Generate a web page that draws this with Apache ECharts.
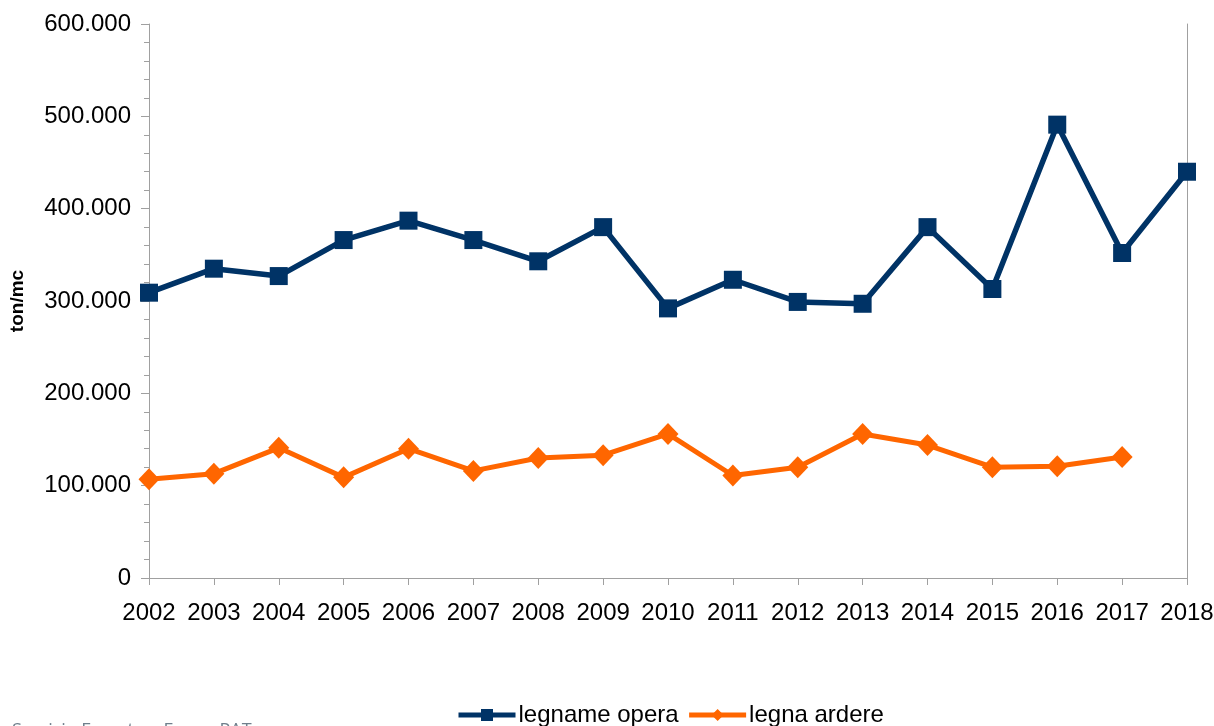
<!DOCTYPE html>
<html>
<head>
<meta charset="utf-8">
<script src="https://cdn.jsdelivr.net/npm/echarts@6/dist/echarts.min.js"></script>
<style>
  html, body { margin: 0; padding: 0; background: #ffffff; }
  #chart { width: 1214px; height: 726px; }
</style>
</head>
<body>
<div id="chart"></div>
<script>
// Anni
const years = ['2002','2003','2004','2005','2006','2007','2008','2009','2010',
               '2011','2012','2013','2014','2015','2016','2017','2018'];

// Legname da opera (ton/mc)
const legnameOpera = [309000, 335000, 327000, 366000, 387000, 366000, 343000, 380000, 292000,
                      323000, 299000, 297000, 380000, 313000, 491000, 352000, 440000];

// Legna da ardere (ton/mc) – 2018 non disponibile
const legnaArdere = [107000, 113000, 141000, 109000, 140000, 116000, 130000, 133000, 156000,
                     111000, 120000, 156000, 144000, 120000, 121000, 131000, null];

const seriesNames = ['legname opera', 'legna ardere'];
const sourceNote = 'Servizio Foreste e Fauna PAT';

const FONT = '"Liberation Sans", Arial, sans-serif';
const AXIS_GRAY = '#a0a0a0';
const NAVY = '#003366';
const ORANGE = '#ff6600';

// Formato italiano: punto come separatore delle migliaia
function fmtIt(v) {
  return String(Math.round(v)).replace(/\B(?=(\d{3})+(?!\d))/g, '.');
}

const chart = echarts.init(document.getElementById('chart'), null, { renderer: 'canvas' });

chart.setOption({
  animation: false,
  backgroundColor: '#ffffff',
  textStyle: { fontFamily: FONT },
  grid: { left: 149, right: 27, top: 24, bottom: 148, containLabel: false, outerBoundsMode: 'none' },
  legend: {
    top: 703,
    left: 456,
    padding: 0,
    itemWidth: 57,
    itemHeight: 15,
    itemGap: 8,
    lineStyle: { width: 5 },
    textStyle: { fontFamily: FONT, fontSize: 24, color: '#000000', padding: [0, 0, 0, -2] },
    data: seriesNames
  },
  graphic: [{
    type: 'text',
    left: 12,
    top: 722,
    style: { text: sourceNote, fontFamily: '"Open Sans", sans-serif', fontSize: 18, fill: '#6f7f8c' }
  }],
  xAxis: {
    type: 'category',
    data: years,
    boundaryGap: false,
    axisLine: { lineStyle: { color: AXIS_GRAY, width: 1 } },
    axisTick: { show: true, alignWithLabel: true, length: 7, lineStyle: { color: AXIS_GRAY } },
    axisLabel: { color: '#000000', fontSize: 24, fontFamily: FONT, margin: 23, interval: 0 },
    splitLine: { show: false }
  },
  yAxis: [{
    type: 'value',
    min: 0,
    max: 600000,
    interval: 100000,
    name: 'ton/mc',
    nameLocation: 'middle',
    nameGap: 122,
    nameRotate: 90,
    nameTextStyle: { fontFamily: FONT, fontSize: 19, fontWeight: 'bold', color: '#000000' },
    axisLine: { show: true, lineStyle: { color: AXIS_GRAY, width: 1 } },
    axisTick: { show: true, length: 8, lineStyle: { color: AXIS_GRAY } },
    minorTick: { show: true, splitNumber: 5, length: 5, lineStyle: { color: AXIS_GRAY } },
    axisLabel: { color: '#000000', fontSize: 24, fontFamily: FONT, margin: 18, formatter: fmtIt },
    splitLine: { show: false }
  }, {
    type: 'value',
    position: 'right',
    min: 0,
    max: 600000,
    interval: 100000,
    axisLine: { show: true, lineStyle: { color: AXIS_GRAY, width: 1 } },
    axisTick: { show: false },
    axisLabel: { show: false },
    splitLine: { show: false }
  }],
  series: [{
    name: seriesNames[0],
    type: 'line',
    data: legnameOpera,
    yAxisIndex: 0,
    symbol: 'rect',
    symbolSize: 18,
    lineStyle: { color: NAVY, width: 5.5 },
    itemStyle: { color: NAVY }
  }, {
    name: seriesNames[1],
    type: 'line',
    data: legnaArdere,
    yAxisIndex: 0,
    symbol: 'diamond',
    symbolSize: [21, 22],
    lineStyle: { color: ORANGE, width: 5 },
    itemStyle: { color: ORANGE }
  }]
});
</script>
</body>
</html>
